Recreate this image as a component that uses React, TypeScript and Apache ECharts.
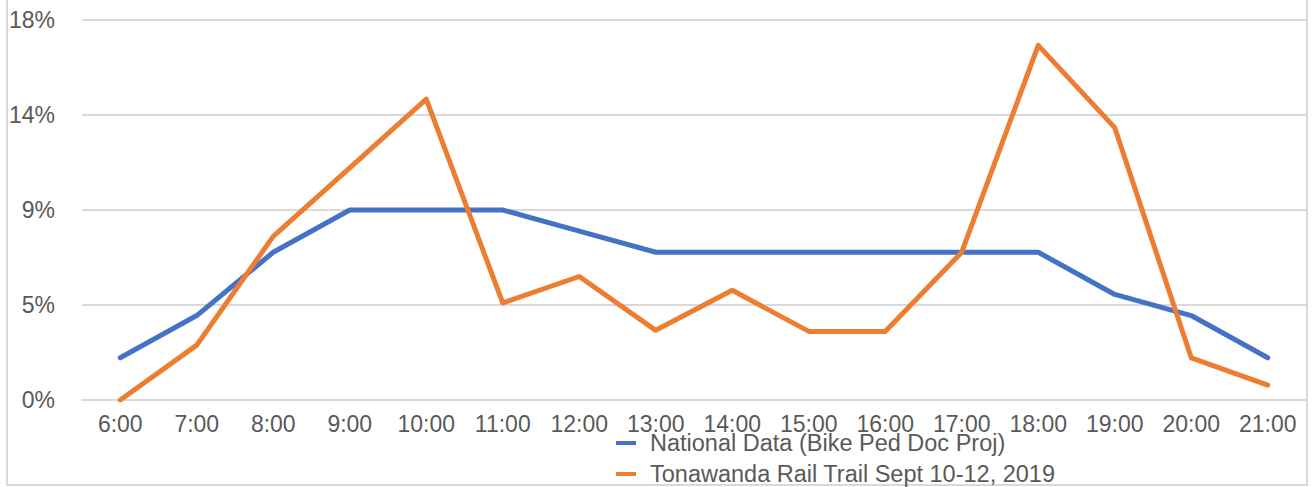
import React, { useEffect, useRef } from "react";
import * as echarts from "echarts";

const categories = ["6:00", "7:00", "8:00", "9:00", "10:00", "11:00", "12:00", "13:00", "14:00", "15:00", "16:00", "17:00", "18:00", "19:00", "20:00", "21:00"];
const nationalName = "National Data (Bike Ped Doc Proj)";
const nationalValues = [2.0, 4.0, 7.0, 9.0, 9.0, 9.0, 8.0, 7.0, 7.0, 7.0, 7.0, 7.0, 7.0, 5.0, 4.0, 2.0];
const tonawandaName = "Tonawanda Rail Trail Sept 10-12, 2019";
const tonawandaValues = [0.0, 2.6, 7.75, 11.0, 14.25, 4.6, 5.85, 3.3, 5.2, 3.25, 3.25, 7.0, 16.8, 12.9, 2.0, 0.7];
const yTickLabels = ["0%", "5%", "9%", "14%", "18%"];
const yStep = 4.5;

export default function App() {
  const ref = useRef<HTMLDivElement>(null);
  useEffect(() => {
    if (!ref.current) return;
    const chart = echarts.init(ref.current, undefined, { renderer: "svg" });
    const font = "'Liberation Sans', Arial, Helvetica, sans-serif";
    chart.setOption({
      animation: false,
      backgroundColor: "#ffffff",
      textStyle: { fontFamily: font },
      graphic: [
        {
          type: "rect",
          shape: { x: 7, y: -10, width: 1300, height: 495 },
          style: { fill: "none", stroke: "#d9d9d9", lineWidth: 2 },
          silent: true,
          z: -1,
        },
      ],
      grid: { left: 82, right: 6, top: 20, bottom: 87, containLabel: false },
      legend: {
        orient: "vertical",
        left: 616,
        top: 431,
        height: 60,
        padding: 0,
        itemWidth: 20,
        itemHeight: 4,
        itemGap: 7,
        icon: "rect",
        textStyle: { fontSize: 23.5, color: "#595959", fontFamily: font, padding: [0, 0, 0, 9], lineHeight: 23 },
        data: [nationalName, tonawandaName],
      },
      xAxis: {
        type: "category",
        data: categories,
        boundaryGap: true,
        axisTick: { show: false },
        axisLine: { show: true, lineStyle: { color: "#d9d9d9", width: 2 } },
        axisLabel: { color: "#595959", fontSize: 23, margin: 12, fontFamily: font, interval: 0 },
      },
      yAxis: {
        type: "value",
        min: 0,
        max: 18,
        interval: yStep,
        axisLine: { show: false },
        axisTick: { show: false },
        splitLine: { lineStyle: { color: "#d9d9d9", width: 2 } },
        axisLabel: {
          color: "#595959",
          fontSize: 23,
          margin: 27,
          fontFamily: font,
          formatter: (v: number) => yTickLabels[Math.round(v / yStep)] ?? "",
        },
      },
      series: [
        {
          name: nationalName,
          type: "line",
          data: nationalValues,
          showSymbol: false,
          symbol: "none",
          itemStyle: { color: "#4472C4" },
          lineStyle: { color: "#4472C4", width: 5, cap: "round", join: "round" },
        },
        {
          name: tonawandaName,
          type: "line",
          data: tonawandaValues,
          showSymbol: false,
          symbol: "none",
          itemStyle: { color: "#ED7D31" },
          lineStyle: { color: "#ED7D31", width: 5, cap: "round", join: "round" },
        },
      ],
    });
    return () => chart.dispose();
  }, []);
  return (
    <div
      ref={ref}
      style={{ position: "absolute", left: 0, top: 0, width: 1312, height: 487 }}
    />
  );
}
